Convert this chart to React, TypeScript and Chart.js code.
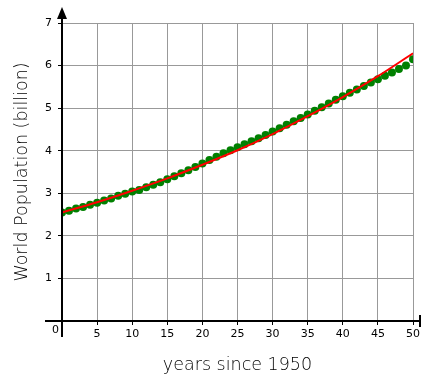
import React, { useEffect, useRef } from 'react';
import { Chart, registerables } from 'chart.js';

Chart.register(...registerables);

const years = [
  0, 1, 2, 3, 4, 5, 6, 7, 8, 9, 10, 11, 12, 13, 14, 15, 16, 17, 18, 19, 20,
  21, 22, 23, 24, 25, 26, 27, 28, 29, 30, 31, 32, 33, 34, 35, 36, 37, 38, 39, 40,
  41, 42, 43, 44, 45, 46, 47, 48, 49, 50,
];
const population = [
  2.55, 2.59, 2.64, 2.68, 2.73, 2.78, 2.83, 2.88, 2.94, 2.99, 3.04,
  3.08, 3.14, 3.2, 3.26, 3.33, 3.4, 3.47, 3.54, 3.62, 3.7,
  3.78, 3.86, 3.94, 4.01, 4.08, 4.15, 4.22, 4.29, 4.37, 4.45,
  4.53, 4.61, 4.69, 4.77, 4.85, 4.94, 5.02, 5.11, 5.2, 5.28,
  5.36, 5.44, 5.52, 5.6, 5.68, 5.76, 5.84, 5.92, 6.0, 6.15,
];
const fitYears = [0, 5, 10, 15, 20, 25, 30, 35, 40, 45, 50];
const fitValues = [2.55, 2.79, 3.06, 3.35, 3.67, 4.01, 4.39, 4.81, 5.26, 5.75, 6.29];
const xTickValues = [0, 5, 10, 15, 20, 25, 30, 35, 40, 45, 50];
const yTickValues = [0, 1, 2, 3, 4, 5, 6, 7];

const xTitle = 'years since 1950';
const yTitle = 'World Population (billion)';

const FONT = '"DejaVu Sans", Verdana, sans-serif';

const axesPlugin = {
  id: 'axesExt',
  afterDraw(chart: any) {
    const { ctx, scales } = chart;
    const x = scales.x;
    const y = scales.y;
    const x0 = x.getPixelForValue(0);
    const xEnd = x.getPixelForValue(50);
    const y0 = y.getPixelForValue(0);
    const yTop = y.getPixelForValue(7);
    ctx.save();
    ctx.strokeStyle = '#000';
    ctx.lineWidth = 2;
    ctx.beginPath();
    ctx.moveTo(x0, y0 + 16);
    ctx.lineTo(x0, yTop - 6);
    ctx.moveTo(x0 - 17, y0);
    ctx.lineTo(xEnd + 7, y0);
    ctx.stroke();
    ctx.fillStyle = '#000';
    ctx.beginPath();
    ctx.moveTo(x0, yTop - 16);
    ctx.lineTo(x0 - 5, yTop - 4);
    ctx.lineTo(x0 + 5, yTop - 4);
    ctx.closePath();
    ctx.fill();
    ctx.fillRect(xEnd + 6, y0 - 6, 2, 12);
    ctx.font = '11px ' + FONT;
    ctx.textAlign = 'right';
    ctx.textBaseline = 'middle';
    ctx.fillText('0', x0 - 3, y0 + 9);
    ctx.restore();
  },
};

export default function App() {
  const ref = useRef<HTMLCanvasElement | null>(null);
  useEffect(() => {
    if (!ref.current) return;
    const chart = new Chart(ref.current, {
      type: 'scatter',
      data: {
        datasets: [
          {
            type: 'line',
            label: 'fit',
            data: fitYears.map((v, i) => ({ x: v, y: fitValues[i] })),
            borderColor: '#ff0000',
            borderWidth: 2,
            pointRadius: 0,
            tension: 0.4,
            cubicInterpolationMode: 'monotone',
            order: 0,
          } as any,
          {
            label: 'population',
            data: years.map((v, i) => ({ x: v, y: population[i] })),
            backgroundColor: '#008000',
            borderColor: '#008000',
            pointRadius: 4,
            borderWidth: 0,
            order: 1,
          },
        ],
      },
      plugins: [axesPlugin],
      options: {
        animation: false,
        responsive: false,
        devicePixelRatio: 1,
        layout: { padding: { top: 23, right: 9, left: 0, bottom: 0 } },
        plugins: { legend: { display: false }, tooltip: { enabled: false } },
        scales: {
          x: {
            type: 'linear',
            min: 0,
            max: 50,
            afterBuildTicks: (s: any) => {
              s.ticks = xTickValues.map((v) => ({ value: v }));
            },
            afterFit: (s: any) => {
              s.height = 58;
            },
            ticks: {
              callback: (v: any) => (v === 0 ? '' : String(v)),
              font: { size: 11, family: FONT },
              color: '#000',
              padding: 3,
              maxRotation: 0,
            },
            grid: {
              color: '#999',
              lineWidth: 1,
              tickLength: 4,
              tickColor: '#000',
            },
            border: { color: '#000', width: 2 },
            title: {
              display: true,
              text: xTitle,
              font: { size: 17.5, family: FONT, weight: '300' },
              color: '#000',
              padding: { top: 0, bottom: 3 },
            },
          },
          y: {
            type: 'linear',
            min: 0,
            max: 7,
            afterBuildTicks: (s: any) => {
              s.ticks = yTickValues.map((v) => ({ value: v }));
            },
            afterFit: (s: any) => {
              s.width = 62;
            },
            ticks: {
              callback: (v: any) => (v === 0 ? '' : String(v)),
              font: { size: 11, family: FONT },
              color: '#000',
              padding: 6,
            },
            grid: {
              color: '#999',
              lineWidth: 1,
              tickLength: 4,
              tickColor: '#000',
            },
            border: { color: '#000', width: 2 },
            title: {
              display: true,
              text: yTitle,
              font: { size: 17.5, family: FONT, weight: '300' },
              color: '#000',
              padding: { top: 12, bottom: 0 },
            },
          },
        },
      },
    });
    return () => chart.destroy();
  }, []);
  return (
    <canvas
      ref={ref}
      width={423}
      height={379}
      style={{ position: 'absolute', left: 0, top: 0, width: 423, height: 379 }}
    />
  );
}
